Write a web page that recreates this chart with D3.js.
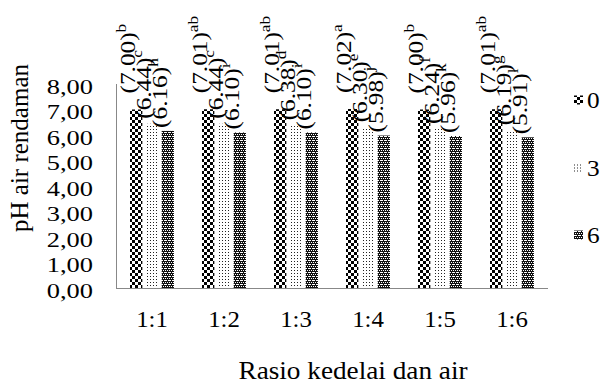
<!DOCTYPE html>
<html>
<head>
<meta charset="utf-8">
<script src="https://cdn.jsdelivr.net/npm/d3@7"></script>
<style>
  body { margin: 0; background: #fff; }
  text { font-family: "Liberation Serif", "Times New Roman", serif; fill: #000; }
</style>
</head>
<body>
<div id="chart"></div>
<script>
var categories = ['1:1', '1:2', '1:3', '1:4', '1:5', '1:6'];
var seriesNames = ['0', '3', '6'];
var values0 = [7.00, 7.01, 7.01, 7.02, 7.00, 7.01];
var values3 = [6.44, 6.44, 6.38, 6.30, 6.24, 6.19];
var values6 = [6.16, 6.10, 6.10, 5.98, 5.96, 5.91];
var letters0 = ['b', 'ab', 'ab', 'a', 'b', 'ab'];
var letters3 = ['c', 'c', 'd', 'e', 'f', 'g'];
var letters6 = ['h', 'i', 'i', 'j', 'k', 'l'];
var yTicks = [0, 1, 2, 3, 4, 5, 6, 7, 8];

var series = [
    {name: seriesNames[0], values: values0, letters: letters0, pat: 'p0', gap: 16},
    {name: seriesNames[1], values: values3, letters: letters3, pat: 'p3', gap: 5},
    {name: seriesNames[2], values: values6, letters: letters6, pat: 'p6', gap: 3}
];

var W = 606, H = 385,
    plotL = 116, plotR = 548, plotT = 84, plotB = 288;

var svg = d3.select('#chart').append('svg')
    .attr('width', W)
    .attr('height', H);

// fill patterns
var defs = svg.append('defs');
var p0 = defs.append('pattern').attr('id', 'p0')
    .attr('patternUnits', 'userSpaceOnUse').attr('width', 6).attr('height', 6);
p0.append('rect').attr('width', 6).attr('height', 6).attr('fill', '#fff');
p0.append('rect').attr('width', 3).attr('height', 3).attr('fill', '#000');
p0.append('rect').attr('x', 3).attr('y', 3).attr('width', 3).attr('height', 3).attr('fill', '#000');

var p3 = defs.append('pattern').attr('id', 'p3')
    .attr('patternUnits', 'userSpaceOnUse').attr('width', 3).attr('height', 3);
p3.append('rect').attr('width', 3).attr('height', 3).attr('fill', '#fff');
p3.append('rect').attr('width', 1).attr('height', 1).attr('fill', '#222');

var p6 = defs.append('pattern').attr('id', 'p6')
    .attr('patternUnits', 'userSpaceOnUse').attr('width', 4).attr('height', 4);
p6.append('rect').attr('width', 4).attr('height', 4).attr('fill', '#111');
[[0, 0], [2, 0], [1, 2], [3, 2], [1, 0]].forEach(function(d) {
    p6.append('rect').attr('x', d[0]).attr('y', d[1]).attr('width', 1).attr('height', 1).attr('fill', '#fff');
});

var x = d3.scaleBand().domain(categories).range([plotL, plotR]).paddingInner(0).paddingOuter(0);
var xs = d3.scaleBand().domain(d3.range(series.length)).range([14, 58]).paddingInner(0.22);
var y = d3.scaleLinear().domain([0, 8]).range([plotB, plotT]);

// y tick labels (the source text is a bit stretched sideways)
svg.append('g').selectAll('text')
    .data(yTicks)
    .enter().append('text')
    .attr('transform', function(d) { return 'translate(93,' + (y(d) + 2) + ') scale(1.2,1)'; })
    .attr('text-anchor', 'end')
    .attr('dominant-baseline', 'central')
    .attr('font-size', 22)
    .text(function(d) { return d.toFixed(2).replace('.', ','); });

// bars
var groups = svg.append('g').selectAll('g')
    .data(series)
    .enter().append('g');

groups.selectAll('rect')
    .data(function(s, si) { return s.values.map(function(v, i) { return {v: v, i: i, si: si, s: s}; }); })
    .enter().append('rect')
    .attr('x', function(d) { return x(categories[d.i]) + xs(d.si); })
    .attr('y', function(d) { return y(d.v); })
    .attr('width', xs.bandwidth())
    .attr('height', function(d) { return y(0) - y(d.v); })
    .attr('fill', function(d) { return 'url(#' + d.s.pat + ')'; });

// rotated value labels
groups.selectAll('text')
    .data(function(s, si) { return s.values.map(function(v, i) { return {v: v, i: i, si: si, s: s}; }); })
    .enter().append('text')
    .attr('transform', function(d) {
        var cx = x(categories[d.i]) + xs(d.si) + xs.bandwidth() / 2 - 1;
        return 'translate(' + cx + ',' + (y(d.v) - d.s.gap) + ') rotate(-90) scale(1.15,1)';
    })
    .attr('font-size', 22)
    .each(function(d) {
        var t = d3.select(this);
        t.append('tspan').text('(' + d.v.toFixed(2) + ')');
        t.append('tspan').attr('font-size', 15).attr('dy', -9).text(d.s.letters[d.i]);
    });

// axes lines
svg.append('line')
    .attr('x1', plotL).attr('x2', plotR)
    .attr('y1', plotB + 0.5).attr('y2', plotB + 0.5)
    .attr('stroke', '#888').attr('stroke-width', 1);
svg.append('line')
    .attr('x1', plotL + 0.5).attr('x2', plotL + 0.5)
    .attr('y1', plotT).attr('y2', plotB)
    .attr('stroke', '#888').attr('stroke-width', 1);

// x tick labels
svg.append('g').selectAll('text')
    .data(categories)
    .enter().append('text')
    .attr('transform', function(d) { return 'translate(' + (x(d) + x.bandwidth() / 2) + ',327) scale(1.08,1)'; })
    .attr('text-anchor', 'middle')
    .attr('font-size', 23)
    .text(function(d) { return d; });

// axis titles
svg.append('text')
    .attr('transform', 'translate(353,379) scale(1.09,1)')
    .attr('text-anchor', 'middle')
    .attr('font-size', 25)
    .text('Rasio kedelai dan air');

svg.append('text')
    .attr('transform', 'translate(28,148) rotate(-90)')
    .attr('text-anchor', 'middle')
    .attr('font-size', 25)
    .text('pH air rendaman');

// legend
var legend = svg.append('g').selectAll('g')
    .data(series)
    .enter().append('g')
    .attr('transform', function(d, i) { return 'translate(574,' + (100 + i * 67.5) + ')'; });
legend.append('rect')
    .attr('x', 0).attr('y', -4.5)
    .attr('width', 9).attr('height', 9)
    .attr('fill', function(d) { return 'url(#' + d.pat + ')'; });
legend.append('text')
    .attr('transform', 'translate(13,0) scale(1.1,1)')
    .attr('dominant-baseline', 'central')
    .attr('font-size', 23)
    .text(function(d) { return d.name; });
</script>
</body>
</html>
